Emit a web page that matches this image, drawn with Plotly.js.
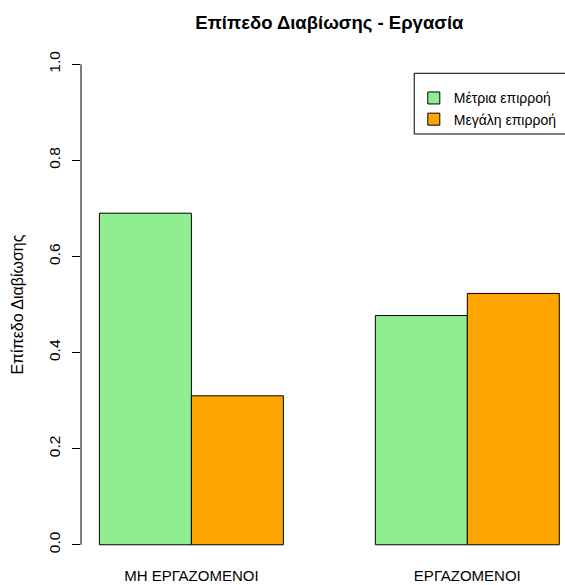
<!DOCTYPE html>
<html>
<head>
<meta charset="utf-8">
<script src="https://cdn.plot.ly/plotly-3.0.1.min.js"></script>
<style>html,body{margin:0;padding:0;background:#fff;}</style>
</head>
<body>
<div id="chart" style="width:565px;height:585px;"></div>
<script>
var categories = ["ΜΗ ΕΡΓΑΖΟΜΕΝΟΙ", "ΕΡΓΑΖΟΜΕΝΟΙ"];
var seriesNames = ["Μέτρια επιρροή", "Μεγάλη επιρροή"];
var moderate = [0.690, 0.477];
var large = [0.310, 0.523];
var colors = ["#90EE90", "#FFA500"];
var yTicks = [0, 0.2, 0.4, 0.6, 0.8, 1.0];

var font = "Liberation Sans, Arial, sans-serif";
var traces = [moderate, large].map(function (vals, i) {
  return {
    type: "bar",
    x: categories,
    y: vals,
    name: seriesNames[i],
    legendgroup: "g" + i,
    marker: {color: colors[i], line: {color: "#000", width: 1}}
  };
});

var layout = {
  width: 565, height: 585,
  margin: {l: 81, r: 0, t: 45, b: 21},
  paper_bgcolor: "#fff", plot_bgcolor: "#fff",
  barmode: "group", bargap: 1/3, bargroupgap: 0,
  showlegend: true,
  font: {family: font, size: 15, color: "#000"},
  title: {text: "<b>Επίπεδο Διαβίωσης - Εργασία</b>", font: {family: font, size: 18.5, color: "#000"},
          xref: "container", x: 0.583, xanchor: "center", yref: "container", y: 0.961, yanchor: "middle"},
  xaxis: {type: "category", range: [-0.4, 1.354], showline: false, showgrid: false, zeroline: false,
          ticks: "", ticklen: 0, ticklabelstandoff: 1, tickfont: {family: font, size: 15}, fixedrange: true},
  yaxis: {range: [-0.04, 1.04], tickvals: yTicks, ticktext: yTicks.map(function (v) { return v.toFixed(1); }),
          showline: false, showgrid: false, zeroline: false, ticks: "outside", ticklen: 8, tickwidth: 1, tickcolor: "#000",
          tickangle: -90, ticklabelstandoff: 6, tickfont: {family: font, size: 15.5}, fixedrange: true},
  legend: {x: 0.6876, y: 0.928, xanchor: "left", yanchor: "top", borderwidth: 0, tracegroupgap: 1,
           bgcolor: "rgba(0,0,0,0)", font: {family: font, size: 14}, traceorder: "normal"},
  shapes: [
    {type: "line", xref: "paper", x0: 0, x1: 0, yref: "y", y0: yTicks[0], y1: yTicks[yTicks.length - 1],
     line: {color: "#000", width: 1}},
    {type: "rect", xref: "paper", x0: 0.6885, x1: 1.1, yref: "paper", y0: 0.8285, y1: 0.9455,
     line: {color: "#000", width: 1}, fillcolor: "rgba(0,0,0,0)", layer: "below"}
  ],
  annotations: [{text: "Επίπεδο Διαβίωσης", xref: "paper", x: -0.132, yref: "paper", y: 0.5, textangle: -90,
                 showarrow: false, xanchor: "center", yanchor: "middle", font: {family: font, size: 16}}]
};
Plotly.newPlot("chart", traces, layout, {displayModeBar: false, staticPlot: true});
</script>
</body>
</html>
